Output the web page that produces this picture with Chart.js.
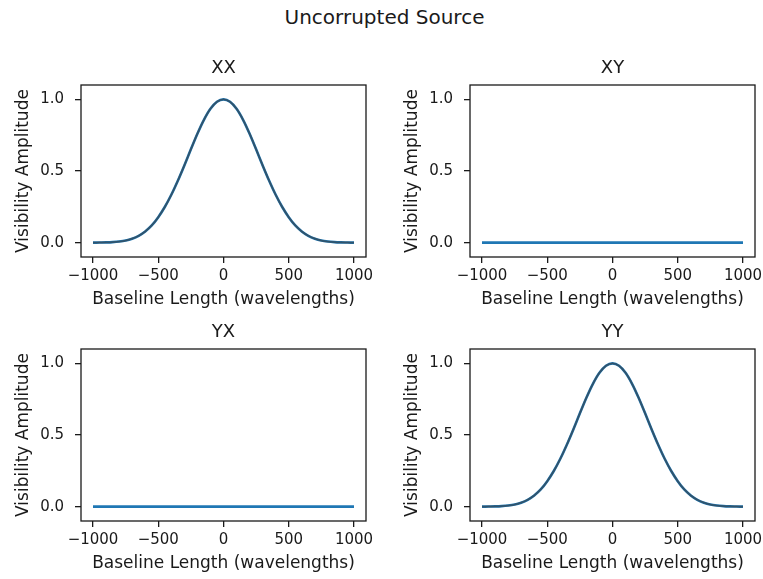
<!DOCTYPE html>
<html>
<head>
<meta charset="utf-8">
<script src="https://cdn.jsdelivr.net/npm/chart.js@4.4.0/dist/chart.umd.min.js"></script>
<style>
    html, body { margin: 0; padding: 0; background: #fff; overflow: hidden; }
    body { width: 763px; height: 579px; position: relative; }
    #suptitle {
        position: absolute; left: 3px; top: 4px; width: 763px;
        text-align: center; font-family: 'DejaVu Sans', sans-serif;
        font-size: 20px; line-height: 26px; color: #1a1a1a;
    }
    .panel { position: absolute; }
</style>
</head>
<body>
<div id="suptitle">Uncorrupted Source</div>
<div class="panel" id="p-xx" style="left:0px; top:0px; width:386px; height:310px;"><canvas id="c-xx"></canvas></div>
<div class="panel" id="p-xy" style="left:389px; top:0px; width:386px; height:310px;"><canvas id="c-xy"></canvas></div>
<div class="panel" id="p-yx" style="left:0px; top:264px; width:386px; height:310px;"><canvas id="c-yx"></canvas></div>
<div class="panel" id="p-yy" style="left:389px; top:264px; width:386px; height:310px;"><canvas id="c-yy"></canvas></div>
<script>
// ===== data =====
const baselines = [-1000, -950, -900, -850, -800, -750, -700, -650, -600, -550, -500, -450, -400, -350, -300, -250, -200, -150, -100, -50,
    0, 50, 100, 150, 200, 250, 300, 350, 400, 450, 500, 550, 600, 650, 700, 750, 800, 850, 900, 950, 1000];

const xxAmp = [0.000, 0.001, 0.002, 0.004, 0.008, 0.015, 0.028, 0.048, 0.078, 0.120, 0.178, 0.249, 0.334, 0.432, 0.539, 0.651, 0.760, 0.857, 0.934, 0.983,
    1.000, 0.983, 0.934, 0.857, 0.760, 0.651, 0.539, 0.432, 0.334, 0.249, 0.178, 0.120, 0.078, 0.048, 0.028, 0.015, 0.008, 0.004, 0.002, 0.001, 0.000];
const xyAmp = [0, 0, 0, 0, 0, 0, 0, 0, 0, 0, 0, 0, 0, 0, 0, 0, 0, 0, 0, 0,
    0, 0, 0, 0, 0, 0, 0, 0, 0, 0, 0, 0, 0, 0, 0, 0, 0, 0, 0, 0, 0];
const yxAmp = [0, 0, 0, 0, 0, 0, 0, 0, 0, 0, 0, 0, 0, 0, 0, 0, 0, 0, 0, 0,
    0, 0, 0, 0, 0, 0, 0, 0, 0, 0, 0, 0, 0, 0, 0, 0, 0, 0, 0, 0, 0];
const yyAmp = [0.000, 0.001, 0.002, 0.004, 0.008, 0.015, 0.028, 0.048, 0.078, 0.120, 0.178, 0.249, 0.334, 0.432, 0.539, 0.651, 0.760, 0.857, 0.934, 0.983,
    1.000, 0.983, 0.934, 0.857, 0.760, 0.651, 0.539, 0.432, 0.334, 0.249, 0.178, 0.120, 0.078, 0.048, 0.028, 0.015, 0.008, 0.004, 0.002, 0.001, 0.000];

const xTicks = [-1000, -500, 0, 500, 1000];
const yTicks = [0, 0.5, 1.0];

const xLabel = 'Baseline Length (wavelengths)';
const yLabel = 'Visibility Amplitude';

const INK = '#1a1a1a';
const BLUE = '#1f77b4';

Chart.defaults.font.family = "'DejaVu Sans', sans-serif";
Chart.defaults.color = INK;
Chart.defaults.animation = false;

// kotak pembatas ala matplotlib
const frameBox = {
    id: 'frameBox',
    afterDatasetsDraw(chart) {
        const { ctx, chartArea: a } = chart;
        ctx.save();
        ctx.strokeStyle = INK;
        ctx.lineWidth = 1.3;
        ctx.strokeRect(a.left, a.top, a.right - a.left, a.bottom - a.top);
        ctx.restore();
    }
};

function toPoints(values) {
    return baselines.map((b, i) => ({ x: b, y: values[i] }));
}

function makePanel(canvasId, title, values, withOverlay) {
    const datasets = [{
        data: toPoints(values),
        borderColor: BLUE,
        borderWidth: 2.6,
        pointRadius: 0,
        cubicInterpolationMode: 'monotone',
        fill: false,
        order: 2
    }];
    if (withOverlay) {
        // garis gelap yang menumpuk di atas kurva biru (order lebih kecil = digambar di atas)
        datasets.push({
            data: toPoints(values),
            borderColor: 'rgba(60, 60, 60, 0.6)',
            borderWidth: 1.8,
            pointRadius: 0,
            cubicInterpolationMode: 'monotone',
            fill: false,
            order: 1
        });
    }

    return new Chart(document.getElementById(canvasId), {
        type: 'line',
        data: { datasets: datasets },
        options: {
            responsive: true,
            maintainAspectRatio: false,
            layout: { padding: { left: 0, right: 20, top: 0, bottom: 0 } },
            plugins: {
                legend: { display: false },
                tooltip: { enabled: false },
                title: {
                    display: true,
                    text: title,
                    fullSize: false,
                    color: INK,
                    font: { size: 18, weight: 'normal', lineHeight: 1.2 },
                    padding: { top: 57.2, bottom: 6.2 }
                }
            },
            scales: {
                x: {
                    type: 'linear',
                    min: -1092,
                    max: 1092,
                    afterBuildTicks: (scale) => { scale.ticks = xTicks.map(v => ({ value: v })); },
                    afterFit: (scale) => { scale.height = 53; },
                    border: { display: false },
                    grid: { drawOnChartArea: false, drawTicks: true, tickLength: 6, color: INK, lineWidth: 1.3 },
                    ticks: {
                        font: { size: 15 },
                        color: INK,
                        padding: 4,
                        maxRotation: 0,
                        callback: (v) => (v < 0 ? '\u2212' + Math.abs(v) : String(v))
                    },
                    title: { display: true, text: xLabel, font: { size: 17 }, color: INK, padding: { top: 0, bottom: 0 } }
                },
                y: {
                    type: 'linear',
                    min: -0.1,
                    max: 1.1,
                    afterBuildTicks: (scale) => { scale.ticks = yTicks.map(v => ({ value: v })); },
                    afterFit: (scale) => { scale.width = 81; },
                    border: { display: false },
                    grid: { drawOnChartArea: false, drawTicks: true, tickLength: 6, color: INK, lineWidth: 1.3 },
                    ticks: {
                        font: { size: 15 },
                        color: INK,
                        padding: 11,
                        callback: (v) => Number(v).toFixed(1)
                    },
                    title: { display: true, text: yLabel, font: { size: 17 }, color: INK, padding: { top: 13, bottom: 0 } }
                }
            }
        },
        plugins: [frameBox]
    });
}

makePanel('c-xx', 'XX', xxAmp, true);
makePanel('c-xy', 'XY', xyAmp, false);
makePanel('c-yx', 'YX', yxAmp, false);
makePanel('c-yy', 'YY', yyAmp, true);
</script>
</body>
</html>
